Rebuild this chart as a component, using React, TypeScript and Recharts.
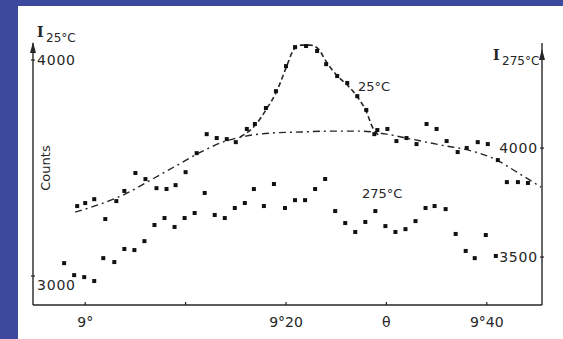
import { ComposedChart, Scatter, Line, XAxis, YAxis } from "recharts";

// x in minutes of arc past 9°
const xTicks = [0, 10, 20, 30, 40];
const xTickLabels = ["9°", "", "9°20", "θ", "9°40"];
const leftTicks = [3000, 4000];
const rightTicks = [3500, 4000];

// 25°C measured counts (left axis)
const x25 = [-0.8, 0, 0.9, 2, 3.1, 3.9, 5, 6, 7.1, 8.1, 9, 10, 11.1, 12.1, 13.1, 14.1, 15, 16.1, 16.9, 18, 19, 20, 20.9, 22, 23.1, 24, 25.1, 26.1, 27.1, 28, 28.8, 29.1, 30.1, 31, 32, 33, 34, 35, 36, 37.1, 38, 39.1, 40.1, 41.1, 42, 43.1, 44.1];
const y25 = [3324, 3338, 3356, 3264, 3347, 3394, 3477, 3449, 3407, 3403, 3421, 3481, 3569, 3657, 3639, 3634, 3620, 3681, 3704, 3778, 3856, 3972, 4060, 4065, 4042, 3981, 3926, 3894, 3833, 3769, 3657, 3676, 3681, 3625, 3639, 3611, 3704, 3681, 3625, 3574, 3593, 3620, 3611, 3537, 3435, 3435, 3431];

// 275°C measured counts (right axis)
const x275 = [-2.1, -1.1, -0.1, 0.9, 1.8, 2.9, 3.9, 4.9, 5.9, 6.9, 7.9, 8.9, 9.9, 10.9, 11.9, 12.9, 13.9, 14.9, 15.9, 16.8, 17.8, 18.8, 19.9, 20.9, 21.9, 22.9, 23.9, 24.9, 25.9, 26.9, 27.9, 28.9, 29.9, 30.9, 31.9, 32.9, 33.9, 34.8, 35.9, 36.9, 37.9, 38.8, 39.9, 40.9];
const y275 = [3472, 3417, 3408, 3390, 3495, 3477, 3537, 3532, 3573, 3647, 3679, 3638, 3679, 3702, 3794, 3693, 3679, 3725, 3748, 3812, 3734, 3835, 3725, 3761, 3761, 3812, 3858, 3711, 3656, 3615, 3661, 3711, 3642, 3615, 3628, 3665, 3725, 3734, 3720, 3606, 3528, 3495, 3601, 3505];

// background curve (dash-dot)
const xBg = [-1, 1.5, 4, 6.5, 9, 11.5, 14, 16, 18.5, 21.5, 24.5, 27.5, 30, 32.5, 35.5, 38.5, 41, 43, 45.4];
const yBg = [3296, 3333, 3380, 3444, 3509, 3574, 3625, 3648, 3662, 3667, 3671, 3671, 3657, 3634, 3606, 3579, 3537, 3481, 3412];

// 25°C peak curve (dashed)
const xPeak = [15.45, 16.95, 18.05, 19.04, 20.04, 20.74, 21.44, 22.43, 23.23, 24.03, 25.12, 26.12, 27.12, 28.02, 28.61, 29.21];
const yPeak = [3644, 3699, 3773, 3852, 3968, 4046, 4069, 4069, 4051, 3991, 3926, 3884, 3829, 3759, 3690, 3653];

const pts25 = x25.map((x, i) => ({ x, y: y25[i] }));
const pts275 = x275.map((x, i) => ({ x, y: y275[i] }));
const bg = xBg.map((x, i) => ({ x, y: yBg[i] }));
const peak = xPeak.map((x, i) => ({ x, y: yPeak[i] }));

const ink = "#262626";
const font = "'DejaVu Sans', sans-serif";
const serif = "'DejaVu Serif', serif";

const Dot = (p: any) => <rect x={p.cx - 2} y={p.cy - 2} width={4} height={4} fill="#111" />;

const XTick = (p: any) => {
  const i = xTicks.indexOf(p.payload.value);
  return (
    <g>
      <line x1={p.x} x2={p.x} y1={p.y} y2={p.y - 3} stroke={ink} strokeWidth={1.2} />
      <text x={p.x} y={p.y + 22} textAnchor="middle" fontSize={14} fill={ink} fontFamily={font}>
        {xTickLabels[i]}
      </text>
    </g>
  );
};

const LeftTick = (p: any) => (
  <g>
    <line x1={p.x - 2} x2={p.x + 2} y1={p.y} y2={p.y} stroke={ink} strokeWidth={1.2} />
    <text x={p.x + 4} y={p.y + (p.payload.value === 3000 ? 14 : 5)} fontSize={14} fill={ink} fontFamily={font} letterSpacing={0.8}>
      {p.payload.value}
    </text>
  </g>
);

const RightTick = (p: any) => (
  <g>
    <line x1={p.x - 2} x2={p.x + 2} y1={p.y} y2={p.y} stroke={ink} strokeWidth={1.2} />
    <text x={p.x - 4} y={p.y + 5} textAnchor="end" fontSize={14} fill={ink} fontFamily={font} letterSpacing={0.8}>
      {p.payload.value}
    </text>
  </g>
);

export default function App() {
  return (
    <div style={{ position: "absolute", left: 0, top: 0, width: 563, height: 339, background: "#3c499c" }}>
      <div style={{ position: "absolute", left: 18, top: 6, width: 545, height: 333, background: "#fff" }} />
      <div style={{ position: "absolute", left: 0, top: 0 }}>
        <ComposedChart width={563} height={339} margin={{ top: 43, right: 0, bottom: 0, left: 0 }}>
          <XAxis
            dataKey="x"
            type="number"
            domain={[-5.2, 45.5]}
            ticks={xTicks}
            tick={<XTick />}
            tickLine={false}
            tickSize={0}
            tickMargin={0}
            height={34}
            axisLine={{ stroke: ink, strokeWidth: 1.4 }}
            allowDataOverflow
          />
          <YAxis
            yAxisId="left"
            type="number"
            domain={[2866, 4079]}
            ticks={leftTicks}
            tick={<LeftTick />}
            tickLine={false}
            tickSize={0}
            tickMargin={0}
            width={33}
            axisLine={{ stroke: ink, strokeWidth: 1.4 }}
            allowDataOverflow
          />
          <YAxis
            yAxisId="right"
            orientation="right"
            type="number"
            domain={[3280, 4482]}
            ticks={rightTicks}
            tick={<RightTick />}
            tickLine={false}
            tickSize={0}
            tickMargin={0}
            width={21}
            axisLine={{ stroke: ink, strokeWidth: 1.4 }}
            allowDataOverflow
          />
          <Line yAxisId="left" data={bg} dataKey="y" type="monotone" stroke={ink} strokeWidth={1.4} strokeDasharray="7 4 2 4" dot={false} isAnimationActive={false} />
          <Line yAxisId="left" data={peak} dataKey="y" type="monotone" stroke={ink} strokeWidth={1.6} strokeDasharray="5 3" dot={false} isAnimationActive={false} />
          <Scatter yAxisId="left" data={pts25} dataKey="y" shape={<Dot />} isAnimationActive={false} />
          <Scatter yAxisId="right" data={pts275} dataKey="y" shape={<Dot />} isAnimationActive={false} />
        </ComposedChart>
      </div>
      <svg width={563} height={339} style={{ position: "absolute", left: 0, top: 0, pointerEvents: "none" }}>
        <polygon points="33,42 30,53 36,53" fill={ink} />
        <polygon points="542,49 539,60 545,60" fill={ink} />
        <text x={37} y={37} fontSize={14} fontFamily={serif} fontWeight="bold" fill={ink}>I</text>
        <text x={46} y={42} fontSize={12} fontFamily={font} fill={ink}>25°C</text>
        <text x={493} y={60} fontSize={14} fontFamily={serif} fontWeight="bold" fill={ink}>I</text>
        <text x={502} y={65} fontSize={12} fontFamily={font} fill={ink}>275°C</text>
        <text x={50} y={168} fontSize={13} fontFamily={font} fill={ink} textAnchor="middle" transform="rotate(-90 50 168)">Counts</text>
        <text x={358} y={91} fontSize={13} fontFamily={font} fill={ink}>25°C</text>
        <text x={362} y={198} fontSize={13} fontFamily={font} fill={ink}>275°C</text>
      </svg>
    </div>
  );
}
